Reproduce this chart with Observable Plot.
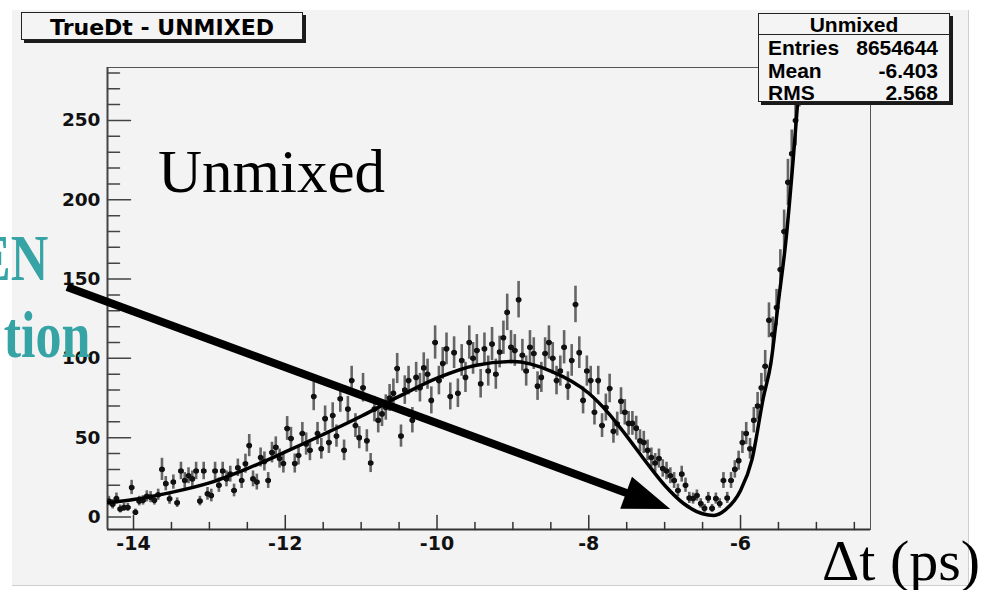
<!DOCTYPE html>
<html>
<head>
<meta charset="utf-8">
<script src="https://cdn.jsdelivr.net/npm/d3@7"></script>
<script src="https://cdn.jsdelivr.net/npm/@observablehq/plot@0.6"></script>
<style>
  body { margin: 0; background: #fff; }
  #wrap { position: relative; width: 990px; height: 590px; overflow: hidden; background: #fff; }
  #canvas { position: absolute; left: 12px; top: 10px; width: 956px; height: 575px; background: #f3f3f3;
            border-right: 1px solid #cfcfcf; border-bottom: 1px solid #cfcfcf; }
  #chart { position: absolute; left: 0; top: 0; }
  .box { position: absolute; box-sizing: border-box; border: 1.5px solid #222; box-shadow: 3px 3px 0 #1a1a1a; background: #f4f4f4; }
  .rt { position: absolute; font-family: "DejaVu Sans", sans-serif; font-weight: bold; line-height: 1; white-space: nowrap; color: #000; }
  .st { position: absolute; font-family: "Liberation Sans", Arial, sans-serif; font-weight: bold; line-height: 1; white-space: nowrap; color: #000; font-size: 21px; }
  .sf { position: absolute; font-family: "Liberation Serif", "Times New Roman", serif; line-height: 1; white-space: nowrap; color: #000; }
  .teal { font-weight: bold; color: #36a3a4; transform: scaleX(0.8); transform-origin: right center; }
</style>
</head>
<body>
<div id="wrap">
  <div id="canvas"></div>
  <div id="chart"></div>
</div>
<script>
// ---------------- data ----------------
const histTitle = "TrueDt - UNMIXED";
const statsName = "Unmixed";
const statsLabels = ["Entries", "Mean", "RMS"];
const statsValues = ["8654644", "-6.403", "2.568"];
const annotation = "Unmixed";
const axisTitle = "Δt (ps)";
const cutText = ["EN", "tion"];

const xMajorTicks = [-14, -12, -10, -8, -6];
const xMinorTicks = [-13.5, -13, -12.5, -11.5, -11, -10.5, -9.5, -9, -8.5, -7.5, -7, -6.5, -5.5, -5, -4.5];
const yMajorTicks = [0, 50, 100, 150, 200, 250];
const yMinorTicks = [10, 20, 30, 40, 60, 70, 80, 90, 110, 120, 130, 140, 160, 170, 180, 190, 210, 220, 230, 240, 260, 270, 280];

const binStart = -14.325, binWidth = 0.05;
const counts = [
  10, 8, 11.6, 5, 6, 6, 18.6, 3, 10, 10.5,
  13, 12.5, 10.5, 14, 30, 21, 11.5, 22, 9, 29,
  23, 26, 24, 29, 10, 29, 14.6, 13.5, 29, 20,
  29, 24, 27, 16.7, 31, 23, 33.6, 45, 24, 22,
  37.5, 35, 23, 40.6, 44, 36.8, 33.7, 55.8, 49.5, 33.7,
  38.8, 52.6, 46, 42, 76, 52.6, 43, 62, 47, 64,
  51, 74.5, 42, 68, 86, 57.6, 50, 81.5, 48, 34,
  68, 61, 65, 69, 75, 78, 93.6, 51, 80, 86,
  61, 88, 81.5, 94, 90, 73.5, 110, 86, 96.8, 106,
  76, 103.6, 78, 98.7, 88, 110, 100, 105, 84, 106,
  92, 109, 90, 104, 113, 129, 107, 105, 137, 102,
  92, 107, 103, 82.5, 88, 103, 110, 100, 86, 92,
  107, 82.5, 98.7, 134, 103.6, 73.5, 92, 86, 66, 86,
  57.6, 69, 81, 54, 58.6, 73, 66, 59, 59, 56,
  48, 47, 42, 37.5, 34, 36.8, 30.6, 29, 26, 23,
  16.7, 27, 20, 12, 11.6, 13.5, 8.5, 5.4, 12, 5.4,
  11.6, 8.5, 23, 12, 23, 30, 35.5, 47, 52.6, 43,
  61, 70, 81.5, 95, 124, 115, 132, 156, 180, 211,
  229, 250, 275
];
const errors = [
  3, 3, 3.5, 2.5, 2.5, 2.5, 4.5, 2, 3, 3,
  3.5, 3.5, 3, 3.5, 7, 4.5, 3.5, 4.5, 3, 5.5,
  5, 5, 5, 5.5, 3, 5.5, 4, 4, 5.5, 4.5,
  5.5, 5, 5, 4, 5.5, 5, 6, 7, 5, 5,
  6, 6, 5, 6.5, 6.5, 6, 6, 7.5, 7, 6,
  6, 7, 7, 6.5, 9, 7, 6.5, 8, 7, 8,
  7, 8.5, 6.5, 8, 9, 7.5, 7, 9, 7, 6,
  8, 8, 8, 8, 8.5, 9, 9.5, 7, 9, 9,
  8, 9.5, 9, 9.5, 9.5, 8.5, 10.5, 9, 10, 10,
  8.5, 10, 9, 10, 9.5, 10.5, 10, 10, 9, 10,
  9.5, 10.5, 9.5, 10, 10.5, 11.5, 10.5, 10, 11.5, 10,
  9.5, 10.5, 10, 9, 9.5, 10, 10.5, 10, 9, 9.5,
  10.5, 9, 10, 11.5, 10, 8.5, 9.5, 9, 8, 9,
  7.5, 8.5, 9, 7.5, 7.5, 8.5, 8, 7.5, 7.5, 7.5,
  7, 7, 6.5, 6, 6, 6, 5.5, 5.5, 5, 5,
  4, 5, 4.5, 3.5, 3.5, 3.5, 3, 2.5, 3.5, 2.5,
  3.5, 3, 5, 3.5, 5, 5.5, 6, 7, 7, 6.5,
  8, 8.5, 9, 10, 11, 11, 11.5, 12.5, 13.5, 14.5,
  15, 16, 16.5
];

const fitX = [-14.34, -14.0, -13.5, -13.0, -12.5, -12.0, -11.5, -11.0, -10.5, -10.0, -9.5, -9.0, -8.5, -8.0, -7.75, -7.5, -7.25, -7.0, -6.75, -6.5, -6.35, -6.2, -6.0, -5.85, -5.7, -5.6, -5.5, -5.4, -5.3, -5.2];
const fitY = [9, 11, 15.5, 21.5, 30.5, 41, 52, 63.5, 76, 87.5, 95.5, 98, 92, 78, 66, 51, 35, 20, 8.5, 2, 1, 4.5, 16.7, 36, 75, 97, 136, 175, 229, 290];

const arrowFrom = [-14.87, 144.7];
const arrowTip = [-6.92, 4.7];

// ---------------- build ----------------
const xDomain = [-14.343, -4.287];
const yDomain = [-7.9, 283.4];

const bins = counts.map((v, i) => ({x: binStart + i * binWidth, v, e: errors[i]}));
const fit = fitX.map((x, i) => ({x, y: fitY[i]}));

const tickShape = {draw(context, l) { context.moveTo(0, 0); context.lineTo(0, -l); }};

function arrowMark(index, scales) {
  const x0 = scales.x(arrowFrom[0]), y0 = scales.y(arrowFrom[1]);
  const x1 = scales.x(arrowTip[0]), y1 = scales.y(arrowTip[1]);
  const a = Math.atan2(y1 - y0, x1 - x0), c = Math.cos(a), s = Math.sin(a);
  const L = 47, W = 17;
  const bx = x1 - L * c, by = y1 - L * s;
  const g = d3.create("svg:g");
  g.append("line").attr("x1", x0).attr("y1", y0).attr("x2", bx + 4 * c).attr("y2", by + 4 * s)
    .attr("stroke", "#000").attr("stroke-width", 8);
  g.append("path").attr("d", `M${x1},${y1}L${bx - W * s},${by + W * c}L${bx + W * s},${by - W * c}Z`).attr("fill", "#000");
  return g.node();
}

const chart = Plot.plot({
  width: 990, height: 590,
  marginLeft: 107, marginRight: 120, marginTop: 67, marginBottom: 61,
  x: {domain: xDomain},
  y: {domain: yDomain},
  style: {background: "transparent", fontFamily: "DejaVu Sans, sans-serif", color: "#111", overflow: "visible"},
  marks: [
    Plot.frame({stroke: "#555", strokeWidth: 1}),
    Plot.ruleX([xDomain[0]], {stroke: "#444", strokeWidth: 2}),
    Plot.ruleY([yDomain[0]], {stroke: "#333", strokeWidth: 2}),
    Plot.vector(xMajorTicks, {x: d => d, y: () => yDomain[0], length: 14, anchor: "start", shape: tickShape, stroke: "#333", strokeWidth: 1.5}),
    Plot.vector(xMinorTicks, {x: d => d, y: () => yDomain[0], length: 7, anchor: "start", shape: tickShape, stroke: "#333", strokeWidth: 1.5}),
    Plot.vector(yMajorTicks, {x: () => xDomain[0], y: d => d, length: 23, rotate: 90, anchor: "start", shape: tickShape, stroke: "#444", strokeWidth: 1.5}),
    Plot.vector(yMinorTicks, {x: () => xDomain[0], y: d => d, length: 12, rotate: 90, anchor: "start", shape: tickShape, stroke: "#444", strokeWidth: 1.5}),
    Plot.axisX({ticks: xMajorTicks, tickSize: 0, tickPadding: 7, tickFormat: d => String(d), fontSize: 19, fontWeight: "bold", label: null}),
    Plot.axisY({ticks: yMajorTicks, tickSize: 0, tickPadding: 7, tickFormat: d => String(d), fontSize: 18.5, fontWeight: "bold", label: null}),
    Plot.ruleX(bins, {x: "x", y1: d => d.v - d.e, y2: d => d.v + d.e, stroke: "#555", strokeWidth: 2.6, strokeOpacity: 0.9, clip: true}),
    Plot.link(bins, {x1: d => d.x - binWidth * 0.7, x2: d => d.x + binWidth * 0.7, y1: "v", y2: "v", stroke: "#111", strokeWidth: 3, clip: true}),
    Plot.dot(bins, {x: "x", y: "v", r: 2.8, fill: "#111", clip: true}),
    Plot.line(fit, {x: "x", y: "y", curve: "monotone-x", stroke: "#000", strokeWidth: 3.5, clip: true}),
    arrowMark
  ]
});
document.getElementById("chart").appendChild(chart);

// ---------------- overlays (boxes and text) ----------------
const wrap = document.getElementById("wrap");
function add(cls, text, css) {
  const d = document.createElement("div");
  d.className = cls;
  if (text != null) d.textContent = text;
  Object.assign(d.style, css);
  wrap.appendChild(d);
  return d;
}
// title box
add("box", null, {left: "21px", top: "12px", width: "282px", height: "28px"});
add("rt", histTitle, {left: "21px", width: "282px", textAlign: "center", top: "17.4px", fontSize: "22px"});
// stats box
add("box", null, {left: "758px", top: "12.5px", width: "192px", height: "89px"});
add("", null, {position: "absolute", left: "758px", top: "33.5px", width: "192px", height: "0", borderTop: "1.2px solid #222"});
add("st", statsName, {left: "758px", width: "192px", textAlign: "center", top: "14.2px"});
const rowBase = [55, 78, 100];
statsLabels.forEach((lab, i) => {
  add("st", lab, {left: "768px", top: (rowBase[i] - 17.8) + "px"});
  add("st", statsValues[i], {right: "52px", top: (rowBase[i] - 17.8) + "px"});
});
// annotations
add("sf", annotation, {left: "158px", top: "140.9px", fontSize: "61px"});
add("sf", axisTitle, {left: "822px", top: "532px", fontSize: "58px"});
add("sf teal", cutText[0], {right: "942px", top: "225.6px", fontSize: "65px"});
add("sf teal", cutText[1], {right: "900px", top: "302.6px", fontSize: "65px"});
</script>
</body>
</html>
